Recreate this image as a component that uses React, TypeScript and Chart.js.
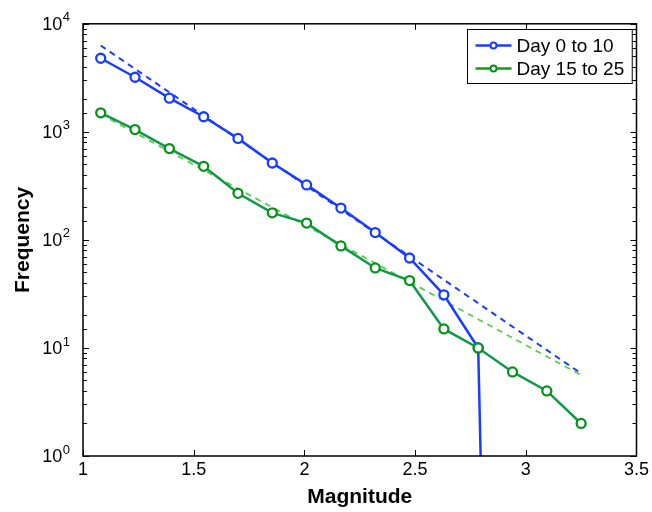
import { useEffect, useRef } from "react";
import { Chart, registerables } from "chart.js";

Chart.register(...registerables);

// magnitude bin centres
const magnitudes = [1.08, 1.235, 1.39, 1.545, 1.7, 1.855, 2.01, 2.165, 2.32, 2.475, 2.63, 2.785, 2.94, 3.095, 3.25];
// counts per bin (the 2.94 bin of the first series is empty -> tiny value so the line drops off the log axis)
const day0to10 = [4800, 3200, 2050, 1380, 870, 515, 323, 197, 117, 68, 31, 10, 1e-13];
const day15to25 = [1500, 1050, 700, 480, 270, 178, 143, 88, 55, 42, 15, 10, 6, 4, 2];
// straight-line (Gutenberg-Richter) fits, end points
const fitMagnitudes = [1.08, 3.25];
const fitDay0to10 = [6300, 5.8];
const fitDay15to25 = [1460, 5.6];

const xTicks = [1, 1.5, 2, 2.5, 3, 3.5];

const FONT = "'Liberation Sans', Arial, Helvetica, sans-serif";
const BLUE = "#1a3cff";
const GREEN_LINE = "#11994a";
const GREEN_MARK = "#07911a";
const GREEN_LEGEND = "#169a16";

const toPoints = (xs: number[], ys: number[]) => ys.map((y, i) => ({ x: xs[i], y }));

const isDecade = (v: number) => Math.abs(Math.log10(v) - Math.round(Math.log10(v))) < 1e-9;

// axes box, inward ticks on all four sides, and "10^n" labels with a raised exponent
const framePlugin = {
  id: "frame",
  afterDatasetsDraw(chart: any) {
    const { ctx, chartArea, scales } = chart;
    const { left, right, top, bottom } = chartArea;
    ctx.save();
    ctx.strokeStyle = "#000";
    ctx.lineWidth = 1;
    ctx.beginPath();
    scales.x.ticks.forEach((t: any) => {
      const px = Math.round(scales.x.getPixelForValue(t.value)) + 0.5;
      ctx.moveTo(px, bottom);
      ctx.lineTo(px, bottom - 6);
      ctx.moveTo(px, top);
      ctx.lineTo(px, top + 6);
    });
    scales.y.ticks.forEach((t: any) => {
      const py = Math.round(scales.y.getPixelForValue(t.value)) + 0.5;
      const len = isDecade(t.value) ? 6 : 4;
      ctx.moveTo(left, py);
      ctx.lineTo(left + len, py);
      ctx.moveTo(right, py);
      ctx.lineTo(right - len, py);
    });
    ctx.stroke();
    ctx.lineWidth = 1.5;
    ctx.strokeRect(left, top, right - left, bottom - top);

    ctx.fillStyle = "#000";
    ctx.textBaseline = "middle";
    const labelRight = left - 13;
    scales.y.ticks
      .filter((t: any) => isDecade(t.value))
      .forEach((t: any) => {
        const py = scales.y.getPixelForValue(t.value);
        const exp = String(Math.round(Math.log10(t.value)));
        ctx.font = `13px ${FONT}`;
        const ew = ctx.measureText(exp).width;
        ctx.textAlign = "left";
        ctx.fillText(exp, labelRight - ew, py - 6);
        ctx.font = `18px ${FONT}`;
        ctx.textAlign = "right";
        ctx.fillText("10", labelRight - ew - 0.5, py + 1);
      });
    ctx.restore();
  },
};

const legendPlugin = {
  id: "boxLegend",
  afterDraw(chart: any) {
    const { ctx, chartArea } = chart;
    const items = chart.data.datasets.filter((d: any) => !d.borderDash);
    ctx.save();
    ctx.font = `19px ${FONT}`;
    const textW = Math.max(...items.map((d: any) => ctx.measureText(d.label).width));
    const w = 8 + 36 + 5 + textW + 8;
    const h = 54;
    const x0 = Math.round(chartArea.right - 5 - w) + 0.5;
    const y0 = Math.round(chartArea.top + 5) + 0.5;
    ctx.fillStyle = "#fff";
    ctx.fillRect(x0, y0, w, h);
    ctx.strokeStyle = "#000";
    ctx.lineWidth = 1;
    ctx.strokeRect(x0, y0, w, h);
    items.forEach((d: any, i: number) => {
      const cy = y0 + 16 + i * 23;
      const lx = x0 + 8;
      ctx.strokeStyle = d.legendColor;
      ctx.lineWidth = 2.5;
      ctx.beginPath();
      ctx.moveTo(lx, cy);
      ctx.lineTo(lx + 36, cy);
      ctx.stroke();
      ctx.beginPath();
      ctx.arc(lx + 18, cy, 3, 0, Math.PI * 2);
      ctx.fillStyle = "#fff";
      ctx.fill();
      ctx.lineWidth = 2;
      ctx.strokeStyle = d.pointBorderColor;
      ctx.stroke();
      ctx.fillStyle = "#000";
      ctx.textBaseline = "middle";
      ctx.textAlign = "left";
      ctx.fillText(d.label, lx + 41, cy + 1);
    });
    ctx.restore();
  },
};

const App = () => {
  const canvasRef = useRef<HTMLCanvasElement | null>(null);
  const chartRef = useRef<Chart | null>(null);

  useEffect(() => {
    if (!canvasRef.current) return;
    if (chartRef.current) chartRef.current.destroy();

    chartRef.current = new Chart(canvasRef.current, {
      type: "line",
      data: {
        datasets: [
          {
            label: "Day 0 to 10",
            data: toPoints(magnitudes, day0to10),
            borderColor: BLUE,
            legendColor: BLUE,
            borderWidth: 2.5,
            pointRadius: 4.5,
            pointBorderWidth: 2.3,
            pointBorderColor: BLUE,
            pointBackgroundColor: "#fff",
            tension: 0,
            order: 2,
          },
          {
            label: "Day 15 to 25",
            data: toPoints(magnitudes, day15to25),
            borderColor: GREEN_LINE,
            legendColor: GREEN_LEGEND,
            borderWidth: 2.5,
            pointRadius: 4.5,
            pointBorderWidth: 2.3,
            pointBorderColor: GREEN_MARK,
            pointBackgroundColor: "#fff",
            tension: 0,
            order: 1,
          },
          {
            label: "Fit day 0 to 10",
            data: toPoints(fitMagnitudes, fitDay0to10),
            borderColor: BLUE,
            borderWidth: 2,
            borderDash: [6, 5],
            pointRadius: 0,
            order: 4,
          },
          {
            label: "Fit day 15 to 25",
            data: toPoints(fitMagnitudes, fitDay15to25),
            borderColor: "#5ccc4c",
            borderWidth: 1.8,
            borderDash: [6, 5],
            pointRadius: 0,
            order: 3,
          },
        ] as any,
      },
      options: {
        responsive: false,
        animation: false,
        layout: { padding: { left: 0, right: 15, top: 19, bottom: 0 } },
        plugins: {
          legend: { display: false },
          tooltip: { enabled: false },
        },
        scales: {
          x: {
            type: "linear",
            min: xTicks[0],
            max: xTicks[xTicks.length - 1],
            afterBuildTicks: (s: any) => {
              s.ticks = xTicks.map((v) => ({ value: v }));
            },
            afterFit: (s: any) => {
              s.height = 56;
            },
            grid: { display: false, drawTicks: false },
            border: { display: false },
            ticks: {
              autoSkip: false,
              maxRotation: 0,
              padding: 3,
              color: "#000",
              font: { family: FONT, size: 18 },
              callback: (v: any) => String(v),
            },
            title: {
              display: true,
              text: "Magnitude",
              color: "#000",
              font: { family: FONT, size: 21, weight: "bold" },
              padding: { top: 0, bottom: 2 },
            },
          },
          y: {
            type: "logarithmic",
            min: 1,
            max: 10000,
            afterFit: (s: any) => {
              s.width = 83;
            },
            grid: { display: false, drawTicks: false },
            border: { display: false },
            ticks: {
              autoSkip: false,
              padding: 13,
              color: "#000",
              font: { family: FONT, size: 18 },
              // decade labels are drawn by the frame plugin with a raised exponent
              callback: () => "",
            },
            title: {
              display: true,
              text: "Frequency",
              color: "#000",
              font: { family: FONT, size: 21, weight: "bold" },
              padding: { top: 11, bottom: 0 },
            },
          },
        },
      } as any,
      plugins: [framePlugin, legendPlugin],
    });

    return () => {
      if (chartRef.current) {
        chartRef.current.destroy();
        chartRef.current = null;
      }
    };
  }, []);

  return (
    <div style={{ position: "fixed", left: 0, top: 0, width: 652, height: 512, background: "#fff" }}>
      <canvas ref={canvasRef} width={652} height={512} />
    </div>
  );
};

export default App;
